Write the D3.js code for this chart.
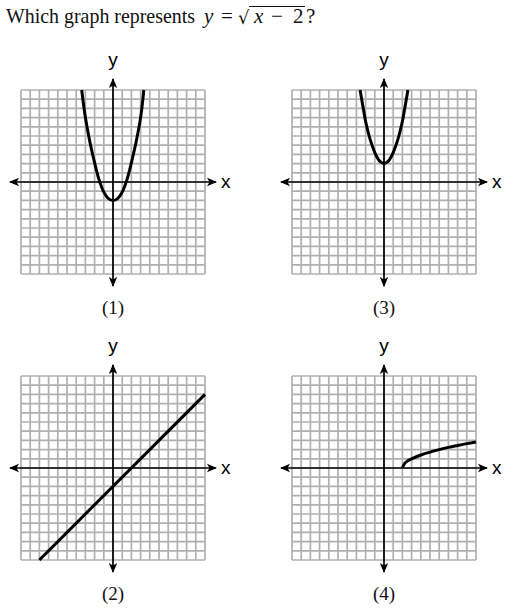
<!DOCTYPE html>
<html><head><meta charset="utf-8">
<script src="https://cdn.jsdelivr.net/npm/d3@7"></script>
<style>body{margin:0;background:#fff}svg{display:block}</style>
</head><body>
<svg id="c" width="526" height="613"></svg>
<script>
// ---- data ----
const gridTicks = d3.range(-10, 11);          // grid lines at every unit, -10..10
const panelLabels = ["(1)", "(3)", "(2)", "(4)"];
// graph (1): parabola opening up, vertex (0,-2)
const g1X = [-3.4, -3, -2.5, -2, -1.5, -1, -0.5, 0, 0.5, 1, 1.5, 2, 2.5, 3, 3.35];
const g1Y = [10, 7, 4.3, 2.1, 0.2, -1.1, -1.8, -2, -1.8, -1.1, 0.2, 2.1, 4.3, 7, 10];
// graph (3): parabola opening up, vertex (0,2)
const g3X = [-2.6, -2.2, -2, -1.5, -1, -0.5, 0, 0.5, 1, 1.5, 2, 2.2, 2.6];
const g3Y = [10, 7.7, 6.6, 4.6, 3.2, 2.3, 2, 2.3, 3.2, 4.6, 6.6, 7.7, 10];
// graph (2): straight line
const g2X = [-8, 10];
const g2Y = [-10, 8];
// graph (4): half-parabola starting at (2,0)
const g4X = [2, 2.25, 2.6, 3, 4, 5, 6, 7, 8, 9, 10];
const g4Y = [0, 0.5, 0.78, 1, 1.41, 1.73, 2, 2.24, 2.45, 2.65, 2.83];

const curves = [
  {x: g1X, y: g1Y}, {x: g3X, y: g3Y}, {x: g2X, y: g2Y}, {x: g4X, y: g4Y}
];

// ---- layout ----
const svg = d3.select("#c");
const size = 184;
const origins = [[21, 90], [292, 90], [21, 376], [292, 376]];

const defs = svg.append("defs");
defs.append("marker").attr("id", "arr").attr("viewBox", "0 0 10 10")
  .attr("refX", 9).attr("refY", 5).attr("markerWidth", 10).attr("markerHeight", 10)
  .attr("markerUnits", "userSpaceOnUse").attr("orient", "auto-start-reverse")
  .append("path").attr("d", "M0,0.8 L10,5 L0,9.2 L2.5,5 Z").attr("fill", "#000");

// ---- title ----
const title = svg.append("g").attr("font-family", "'Liberation Serif', serif").attr("font-size", 21).attr("fill", "#111");
title.append("text").attr("x", 6).attr("y", 23).attr("textLength", 189).attr("lengthAdjust", "spacingAndGlyphs").text("Which graph represents");
title.append("text").attr("x", 204).attr("y", 23).attr("font-style", "italic").text("y");
title.append("text").attr("x", 221).attr("y", 23).text("=");
title.append("text").attr("x", 238).attr("y", 24).attr("font-family", "'DejaVu Sans', sans-serif").attr("font-size", 18).text("√");
title.append("line").attr("x1", 249).attr("x2", 305).attr("y1", 6.5).attr("y2", 6.5).attr("stroke", "#111").attr("stroke-width", 1);
title.append("text").attr("x", 254).attr("y", 23).attr("font-style", "italic").text("x");
title.append("text").attr("x", 271).attr("y", 23).text("−");
title.append("text").attr("x", 293).attr("y", 23).text("2");
title.append("text").attr("x", 306).attr("y", 23).text("?");

// ---- panels ----
origins.forEach(([ox, oy], i) => {
  const x = d3.scaleLinear().domain([-10, 10]).range([ox, ox + size]);
  const y = d3.scaleLinear().domain([-10, 10]).range([oy + size, oy]);
  const g = svg.append("g");

  const grid = g.append("g").attr("stroke", "#b0b0b0").attr("stroke-width", 1.7);
  grid.selectAll(".v").data(gridTicks).join("line")
    .attr("x1", d => x(d)).attr("x2", d => x(d)).attr("y1", y(-10)).attr("y2", y(10));
  grid.selectAll(".h").data(gridTicks).join("line")
    .attr("y1", d => y(d)).attr("y2", d => y(d)).attr("x1", x(-10)).attr("x2", x(10));

  // axes with arrows at both ends
  g.append("line").attr("x1", x(-10) - 11).attr("x2", x(10) + 11)
    .attr("y1", y(0)).attr("y2", y(0)).attr("stroke", "#000").attr("stroke-width", 1.7)
    .attr("marker-start", "url(#arr)").attr("marker-end", "url(#arr)");
  g.append("line").attr("y1", y(10) - 11).attr("y2", y(-10) + 12)
    .attr("x1", x(0)).attr("x2", x(0)).attr("stroke", "#000").attr("stroke-width", 1.7)
    .attr("marker-start", "url(#arr)").attr("marker-end", "url(#arr)");

  g.append("text").attr("x", x(10) + 16).attr("y", y(0) + 6)
    .attr("font-family", "'Liberation Sans', Arial, sans-serif").attr("font-size", 19).attr("fill", "#000").text("x");
  g.append("text").attr("x", x(0)).attr("y", y(10) - 24).attr("text-anchor", "middle")
    .attr("font-family", "'Liberation Sans', Arial, sans-serif").attr("font-size", 19).attr("fill", "#000").text("y");
  g.append("text").attr("x", x(0)).attr("y", y(-10) + 40).attr("text-anchor", "middle")
    .attr("font-family", "'Liberation Serif', serif").attr("font-size", 19).attr("fill", "#111").text(panelLabels[i]);

  const c = curves[i];
  const pts = c.x.map((v, k) => [v, c.y[k]]);
  const line = d3.line().x(d => x(d[0])).y(d => y(d[1])).curve(d3.curveCatmullRom.alpha(0.5));
  g.append("path").attr("d", line(pts)).attr("fill", "none").attr("stroke", "#000")
    .attr("stroke-width", 3).attr("stroke-linecap", "butt");
});
</script>
</body></html>
